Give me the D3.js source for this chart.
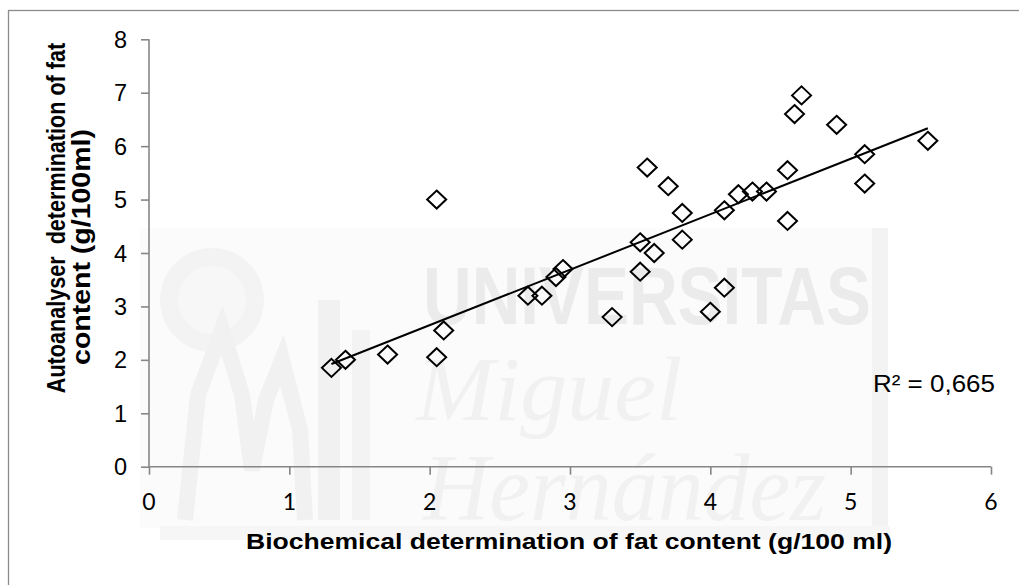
<!DOCTYPE html>
<html>
<head>
<meta charset="utf-8">
<script src="https://cdn.jsdelivr.net/npm/d3@7"></script>
<style>
  html, body { margin: 0; padding: 0; background: #ffffff; }
  svg { display: block; }
</style>
</head>
<body>
<svg id="chart" width="1019" height="585"></svg>
<script>
// Biochemical (x) vs autoanalyser (y) fat content, g/100 ml
const biochemical = [1.3, 1.4, 1.7, 2.05, 2.05, 2.1, 2.7, 2.8, 2.9, 2.95,
  3.3, 3.5, 3.5, 3.55, 3.6, 3.7, 3.8, 3.8, 4.0, 4.1, 4.1, 4.2, 4.3, 4.4,
  4.55, 4.55, 4.6, 4.65, 4.9, 5.1, 5.1, 5.55];
const autoanalyser = [1.85, 2.0, 2.1, 5.0, 2.05, 2.55, 3.2, 3.2, 3.55, 3.7,
  2.8, 4.2, 3.65, 5.6, 4.0, 5.25, 4.75, 4.25, 2.9, 3.35, 4.8, 5.1, 5.15, 5.15,
  5.55, 4.6, 6.6, 6.95, 6.4, 5.85, 5.3, 6.1];
const xTicks = [0, 1, 2, 3, 4, 5, 6];
const yTicks = [0, 1, 2, 3, 4, 5, 6, 7, 8];
const xTitle = "Biochemical determination of fat content (g/100 ml)";
const yTitleLines = ["Autoanalyser\u00a0 determination of fat", "content (g/100ml)"];
const r2Label = "R\u00b2 = 0,665";

const svg = d3.select("#chart");

const x = d3.scaleLinear().domain([0, 6]).range([149, 991]);
const y = d3.scaleLinear().domain([0, 8]).range([466.7, 39.3]);

// outer chart frame (only top and left edges fall inside the view)
svg.append("rect")
  .attr("x", 8.5).attr("y", 10.5)
  .attr("width", 1030).attr("height", 600)
  .attr("fill", "none").attr("stroke", "#8c8c8c").attr("stroke-width", 1.3);

// faint university emblem behind the plot
const wm = svg.append("g").attr("class", "emblem");
wm.append("rect").attr("x", 140).attr("y", 228).attr("width", 740).attr("height", 300)
  .attr("fill", "#fbfbfb");
wm.append("rect").attr("x", 872).attr("y", 228).attr("width", 16).attr("height", 300)
  .attr("fill", "#f3f3f3");
wm.append("rect").attr("x", 160).attr("y", 526).attr("width", 730).attr("height", 14)
  .attr("fill", "#f6f6f6");
wm.append("circle").attr("cx", 212).attr("cy", 300).attr("r", 52).attr("fill", "#f3f3f3");
wm.append("circle").attr("cx", 212).attr("cy", 300).attr("r", 34).attr("fill", "#f7f7f7");
wm.append("path")
  .attr("d", "M185,520 L198,395 L222,330 L242,395 L252,470 L266,400 L282,360 L300,430 L305,520")
  .attr("fill", "none").attr("stroke", "#f1f1f1").attr("stroke-width", 16);
wm.append("rect").attr("x", 318).attr("y", 300).attr("width", 22).attr("height", 220)
  .attr("fill", "#f1f1f1");
wm.append("rect").attr("x", 352).attr("y", 330).attr("width", 18).attr("height", 190)
  .attr("fill", "#f3f3f3");
wm.append("text").attr("x", 423).attr("y", 324)
  .attr("font-family", "Liberation Sans, Arial, sans-serif").attr("font-weight", "bold")
  .attr("font-size", 81).attr("textLength", 448).attr("lengthAdjust", "spacingAndGlyphs")
  .attr("fill", "#ebebeb").text("UNIVERSITAS");
wm.append("text").attr("x", 416).attr("y", 420)
  .attr("font-family", "Liberation Serif, DejaVu Serif, serif").attr("font-style", "italic")
  .attr("font-size", 92).attr("textLength", 266).attr("lengthAdjust", "spacingAndGlyphs")
  .attr("fill", "#f1f1f1").text("Miguel");
wm.append("text").attr("x", 423).attr("y", 520)
  .attr("font-family", "Liberation Serif, DejaVu Serif, serif").attr("font-style", "italic")
  .attr("font-size", 96).attr("textLength", 403).attr("lengthAdjust", "spacingAndGlyphs")
  .attr("fill", "#f1f1f1").text("Hernández");

// axes
const axisColor = "#868686";
const xAxis = svg.append("g").attr("transform", `translate(0,${y(0)})`)
  .call(d3.axisBottom(x).tickValues(xTicks).tickSize(8).tickFormat(""));
const yAxis = svg.append("g").attr("transform", `translate(${x(0)},0)`)
  .call(d3.axisLeft(y).tickValues(yTicks).tickSize(8).tickFormat(""));
[xAxis, yAxis].forEach(g => {
  g.select(".domain").attr("stroke", axisColor).attr("stroke-width", 1.6);
  g.selectAll(".tick line").attr("stroke", axisColor).attr("stroke-width", 1.6);
});
xAxis.select(".domain").attr("d", `M${x(0)},0H${x(6)}`);
yAxis.select(".domain").attr("d", `M0,${y(0)}V${y(8)}`);

// tick labels
svg.append("g").selectAll("text").data(yTicks).join("text")
  .attr("x", 127).attr("y", d => y(d) + 8.5)
  .attr("text-anchor", "end")
  .attr("font-family", "Liberation Sans, Arial, sans-serif")
  .attr("font-size", 23.5).attr("fill", "#000")
  .text(d => d);
svg.append("g").selectAll("text").data(xTicks).join("text")
  .attr("x", d => x(d)).attr("y", 510)
  .attr("text-anchor", "middle")
  .attr("font-family", "Lato, 'Open Sans', sans-serif")
  .attr("font-size", 23).attr("fill", "#000")
  .text(d => d);

// axis titles
svg.append("text")
  .attr("x", 246).attr("y", 549)
  .attr("font-family", "Liberation Sans, Arial, sans-serif").attr("font-weight", "bold")
  .attr("font-size", 22.5).attr("textLength", 646).attr("lengthAdjust", "spacingAndGlyphs")
  .attr("fill", "#000").text(xTitle);

// vertical title: two rotated lines, widened across the page
const yTitle = [
  { text: yTitleLines[0], bx: 65, cy: 218, size: 21.6, sx: 1.23 },
  { text: yTitleLines[1], bx: 90, cy: 247, size: 28.5, sx: 0.92 }
];
svg.append("g").selectAll("text").data(yTitle).join("text")
  .attr("transform", d => `translate(${d.bx},${d.cy}) scale(${d.sx},1) rotate(-90)`)
  .attr("x", 0).attr("y", 0)
  .attr("text-anchor", "middle")
  .attr("font-family", "Liberation Sans, Arial, sans-serif").attr("font-weight", "bold")
  .attr("font-size", d => d.size)
  .attr("fill", "#000").text(d => d.text);

// data markers: open diamonds
const points = biochemical.map((v, i) => ({ x: v, y: autoanalyser[i] }));
const diamond = (cx, cy) => `M${cx},${cy - 9}L${cx + 9.5},${cy}L${cx},${cy + 9}L${cx - 9.5},${cy}Z`;
svg.append("g").selectAll("path").data(points).join("path")
  .attr("d", d => diamond(x(d.x), y(d.y)))
  .attr("fill", "none").attr("stroke", "#000").attr("stroke-width", 2);

// least-squares trendline over the observed range
const mx = d3.mean(biochemical), my = d3.mean(autoanalyser);
const sxy = d3.sum(points, p => (p.x - mx) * (p.y - my));
const sxx = d3.sum(points, p => (p.x - mx) ** 2);
const slope = sxy / sxx, intercept = my - slope * mx;
const [x0, x1] = d3.extent(biochemical);
svg.append("path")
  .datum([x0, x1].map(v => [v, intercept + slope * v]))
  .attr("d", d3.line().x(d => x(d[0])).y(d => y(d[1])))
  .attr("fill", "none").attr("stroke", "#000").attr("stroke-width", 2);

svg.append("text")
  .attr("x", 873).attr("y", 392)
  .attr("font-family", "Liberation Sans, Arial, sans-serif")
  .attr("font-size", 24).attr("textLength", 122).attr("lengthAdjust", "spacingAndGlyphs")
  .attr("fill", "#000").text(r2Label);
</script>
</body>
</html>
